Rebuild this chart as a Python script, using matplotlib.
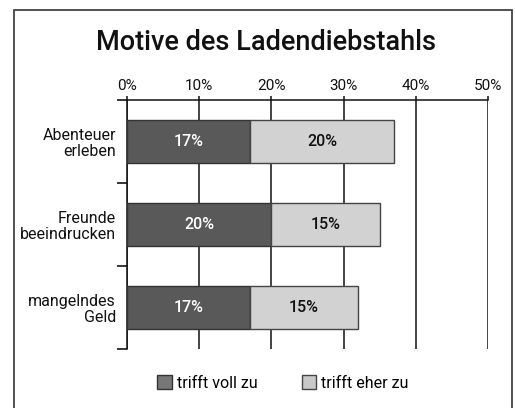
import matplotlib.pyplot as plt
from matplotlib.patches import Rectangle, Patch
import numpy as np

plt.rcParams['font.family'] = ['Roboto', 'DejaVu Sans']

# Daten
categories = ['Abenteuer\nerleben', 'Freunde\nbeeindrucken', 'mangelndes\nGeld']
voll_zu = [17, 20, 17]
eher_zu = [20, 15, 15]
series_names = ['trifft voll zu', 'trifft eher zu']
xticks = [0, 10, 20, 30, 40, 50]

dark = '#595959'
light = '#d2d2d2'

fig = plt.figure(figsize=(5.15, 4.08), dpi=100)
ax = fig.add_axes([127 / 515, 1 - 349 / 408, (488 - 127) / 515, (349 - 100) / 408])

y = np.arange(len(categories))
h = 0.53
ax.barh(y, voll_zu, h, color=dark, edgecolor='#333333', linewidth=1, zorder=3)
ax.barh(y, eher_zu, h, left=voll_zu, color=light, edgecolor='#444444', linewidth=1, zorder=3)

for i in range(len(categories)):
    ax.text(voll_zu[i] / 2, y[i], f'{voll_zu[i]}%', ha='center', va='center',
            color='white', fontsize=11.5, fontweight='medium', zorder=4)
    ax.text(voll_zu[i] + eher_zu[i] / 2, y[i], f'{eher_zu[i]}%', ha='center', va='center',
            color='#111111', fontsize=11.5, fontweight='medium', zorder=4)

ax.set_xlim(0, 50)
ax.set_ylim(len(categories) - 0.5, -0.5)
ax.set_xticks(xticks)
ax.set_xticklabels([f'{v}%' for v in xticks])
ax.xaxis.tick_top()
ax.tick_params(axis='x', direction='out', length=3, width=1.1, pad=2, labelsize=11, colors='#111111')

ax.set_yticks(y)
ax.set_yticklabels(categories, fontsize=11.5, linespacing=1.05)
ax.set_yticks(np.arange(-0.5, len(categories), 1.0), minor=True)
ax.tick_params(axis='y', which='major', length=0, pad=8, colors='#111111')
ax.tick_params(axis='y', which='minor', length=7, width=1.1, direction='out')
for lbl in ax.get_yticklabels():
    lbl.set_ha('right')

ax.grid(axis='x', color='#111111', linewidth=1.1, zorder=0)
ax.set_axisbelow(True)

for s in ['right', 'bottom']:
    ax.spines[s].set_visible(False)
for s in ['top', 'left']:
    ax.spines[s].set_linewidth(1.1)
    ax.spines[s].set_color('#111111')

# Titel
fig.text(266 / 515, 1 - 42 / 408, 'Motive des Ladendiebstahls', ha='center', va='center',
         fontsize=19.5, fontweight='medium', color='#111111')

# Legende
handles = [Patch(facecolor='#777777', edgecolor='#333333'),
           Patch(facecolor='#c8c8c8', edgecolor='#444444')]
fig.legend(handles, series_names, loc='center', bbox_to_anchor=(283 / 515, 1 - 383 / 408),
           ncol=2, frameon=False, handlelength=0.9, handleheight=1.0, handletextpad=0.3,
           columnspacing=2.8, fontsize=11.5)

# Rahmen
fig.patches.append(Rectangle((14 / 515, -0.1), (512 - 14) / 515, 1.1 - 10 / 408,
                             transform=fig.transFigure, fill=False,
                             edgecolor='#444444', linewidth=1.3))

fig.savefig('out.png', dpi=100)
